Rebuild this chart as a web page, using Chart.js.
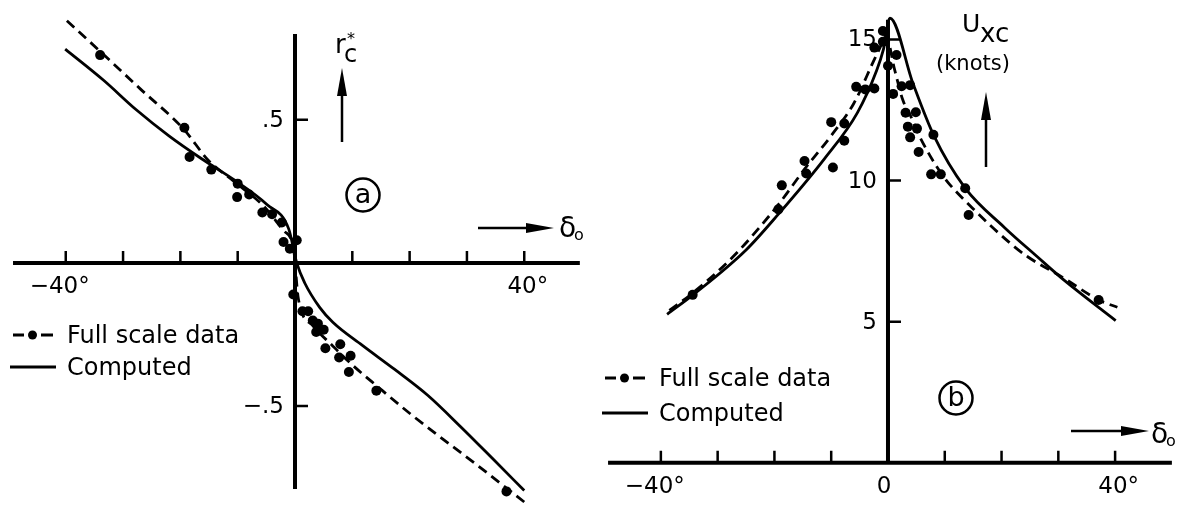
<!DOCTYPE html>
<html>
<head>
<meta charset="utf-8">
<script src="https://cdn.jsdelivr.net/npm/chart.js@4.4.1/dist/chart.umd.min.js"></script>
<style>
  html, body { margin: 0; padding: 0; background: #fff; }
  #wrap { position: relative; width: 1182px; height: 509px; overflow: hidden; }
  canvas { position: absolute; top: 0; }
  #chartA { left: 0; }
  #chartB { left: 590px; }
</style>
</head>
<body>
<div id="wrap">
  <canvas id="chartA" width="590" height="509"></canvas>
  <canvas id="chartB" width="592" height="509"></canvas>
</div>
<script>
// (a) non-dimensional rate of turn r_c* against rudder angle
const rDataDelta = [-34.0, -19.3, -18.4, -14.6, -10.0, -10.1, -8.0, -5.7, -4.0, -2.3, -2.0, -0.9, 0.3, -0.3, 1.3, 2.3, 3.1, 4.0, 3.7, 5.0, 5.3, 7.9, 7.7, 9.7, 9.4, 14.2, 36.9];
const rDataR = [0.726, 0.472, 0.370, 0.326, 0.277, 0.230, 0.239, 0.176, 0.170, 0.141, 0.073, 0.050, 0.079, -0.110, -0.169, -0.169, -0.201, -0.212, -0.241, -0.233, -0.298, -0.284, -0.330, -0.324, -0.381, -0.446, -0.798];
const rFitDelta = [-39.8, -34.0, -27.0, -19.4, -15.1, -10.6, -5.5, -2.0, -0.3, 0.6, 3.1, 6.5, 9.6, 14.6, 20.3, 31.7, 40.0];
const rFitR = [0.846, 0.739, 0.608, 0.467, 0.358, 0.284, 0.199, 0.113, 0.055, -0.127, -0.219, -0.288, -0.349, -0.435, -0.530, -0.705, -0.835];
const rCompDelta = [-40.1, -33.4, -27.7, -22.0, -16.3, -10.6, -4.9, -1.1, 0.3, 1.7, 4.3, 6.6, 11.7, 17.4, 23.2, 28.9, 34.6, 40.0];
const rCompR = [0.747, 0.638, 0.535, 0.444, 0.364, 0.290, 0.204, 0.119, 0.0, -0.070, -0.155, -0.207, -0.287, -0.372, -0.463, -0.572, -0.686, -0.795];

// (b) steady speed U_xc in knots against rudder angle
const uDataDelta = [-34.4, -19.3, -18.7, -14.7, -14.4, -9.7, -10.0, -7.7, -7.7, -5.6, -4.0, -2.4, -2.4, -0.9, -0.9, 0.0, 1.5, 0.9, 2.4, 3.9, 3.1, 4.9, 3.5, 5.1, 3.9, 8.0, 5.4, 7.6, 9.3, 13.6, 14.2, 37.1];
const uDataU = [5.95, 8.98, 9.83, 10.69, 10.25, 10.46, 12.07, 12.02, 11.41, 13.32, 13.23, 13.26, 14.71, 14.92, 15.30, 14.07, 14.45, 13.07, 13.34, 13.38, 12.40, 12.42, 11.91, 11.84, 11.53, 11.62, 11.01, 10.22, 10.22, 9.73, 8.78, 5.77];
const uFitDelta = [-38.5, -34.3, -27.3, -19.3, -14.6, -10.0, -6.0, -2.5, -1.4, -0.4, 1.2, 2.6, 4.0, 5.5, 9.6, 14.8, 21.7, 24.6, 30.9, 37.1, 40.4];
const uFitU = [5.40, 6.03, 7.30, 9.15, 10.43, 11.59, 12.74, 14.25, 14.71, 15.15, 13.90, 12.86, 12.28, 11.59, 10.19, 9.04, 7.75, 7.30, 6.55, 5.77, 5.51];
const uCompDelta = [-38.9, -34.0, -25.0, -19.3, -11.2, -5.4, -2.0, -0.8, 0.35, 4.4, 8.1, 13.6, 20.5, 26.3, 30.9, 40.1];
const uCompU = [5.26, 6.00, 7.54, 8.81, 10.77, 12.40, 13.90, 14.65, 15.75, 13.44, 11.58, 9.73, 8.34, 7.30, 6.49, 5.04];

// ticks and labels
const deltaTicks = [-40, -30, -20, -10, 10, 20, 30, 40];
const deltaLabelValues = [-40, 40];
const deltaLabels = ['\u221240\u00b0', '40\u00b0'];
const rTicks = [-0.5, 0.5];
const rTickLabels = ['\u2212.5', '.5'];
const uTicks = [5, 10, 15];
const uTickLabels = ['5', '10', '15'];

const FONT = '"DejaVu Sans", sans-serif';

function zip(xs, ys) {
  return xs.map((x, i) => ({ x: x, y: ys[i] }));
}

function datasets(dx, dy, fx, fy, cx, cy) {
  return [
    {
      label: 'Full scale data',
      data: zip(dx, dy),
      pointRadius: 5,
      pointHoverRadius: 5,
      backgroundColor: '#000',
      borderColor: '#000',
      borderWidth: 0,
      showLine: false,
    },
    {
      label: 'Full scale data',
      data: zip(fx, fy),
      showLine: true,
      borderColor: '#000',
      borderWidth: 2.8,
      borderDash: [10, 6],
      pointRadius: 0,
      pointHoverRadius: 0,
      cubicInterpolationMode: 'monotone',
    },
    {
      label: 'Computed',
      data: zip(cx, cy),
      showLine: true,
      borderColor: '#000',
      borderWidth: 2.8,
      pointRadius: 0,
      pointHoverRadius: 0,
      cubicInterpolationMode: 'monotone',
    },
  ];
}

function arrow(ctx, x1, y1, x2, y2) {
  const a = Math.atan2(y2 - y1, x2 - x1);
  const len = 28, w = 5;
  const bx = x2 - len * Math.cos(a), by = y2 - len * Math.sin(a);
  ctx.lineWidth = 2.5;
  ctx.beginPath();
  ctx.moveTo(x1, y1);
  ctx.lineTo(bx + 4 * Math.cos(a), by + 4 * Math.sin(a));
  ctx.stroke();
  ctx.beginPath();
  ctx.moveTo(x2, y2);
  ctx.lineTo(bx - w * Math.sin(a), by + w * Math.cos(a));
  ctx.lineTo(bx + w * Math.sin(a), by - w * Math.cos(a));
  ctx.closePath();
  ctx.fill();
}

function circled(ctx, cx, cy, letter) {
  ctx.lineWidth = 2.5;
  ctx.beginPath();
  ctx.arc(cx, cy, 16.5, 0, Math.PI * 2);
  ctx.stroke();
  ctx.font = '27px ' + FONT;
  ctx.textAlign = 'center';
  ctx.textBaseline = 'middle';
  ctx.fillText(letter, cx, cy + 1);
}

function deltaTitle(ctx, x, y) {
  ctx.textAlign = 'left';
  ctx.textBaseline = 'alphabetic';
  ctx.font = '28px ' + FONT;
  ctx.fillText('\u03b4', x, y);
  ctx.font = '16px ' + FONT;
  ctx.fillText('o', x + 15, y + 3);
}

function legend(ctx, chart, x, y1, y2) {
  const labels = [chart.data.datasets[0].label, chart.data.datasets[2].label];
  ctx.lineWidth = 2.8;
  // dashed sample with a dot
  ctx.beginPath();
  ctx.moveTo(x, y1); ctx.lineTo(x + 11, y1);
  ctx.moveTo(x + 28, y1); ctx.lineTo(x + 40, y1);
  ctx.stroke();
  ctx.beginPath();
  ctx.arc(x + 19.5, y1, 4.5, 0, Math.PI * 2);
  ctx.fill();
  // solid sample
  ctx.beginPath();
  ctx.moveTo(x - 3, y2); ctx.lineTo(x + 43, y2);
  ctx.stroke();
  ctx.font = '24px ' + FONT;
  ctx.textAlign = 'left';
  ctx.textBaseline = 'alphabetic';
  ctx.fillText(labels[0], x + 54, y1 + 8);
  ctx.fillText(labels[1], x + 54, y2 + 8);
}

// draws the crossing axes with their tick marks and labels, then the panel's own notes
const axisFrame = {
  id: 'axisFrame',
  beforeDatasetsDraw(chart, args, opts) {
    const { ctx, scales: { x, y } } = chart;
    const x0 = x.getPixelForValue(0), y0 = y.getPixelForValue(0);
    ctx.save();
    ctx.strokeStyle = '#000';
    ctx.fillStyle = '#000';
    ctx.lineWidth = 4;
    ctx.beginPath();
    ctx.moveTo(x.getPixelForValue(opts.xLine[0]), y0);
    ctx.lineTo(x.getPixelForValue(opts.xLine[1]), y0);
    ctx.moveTo(x0, y.getPixelForValue(opts.yLine[0]));
    ctx.lineTo(x0, y.getPixelForValue(opts.yLine[1]));
    ctx.stroke();

    ctx.lineWidth = 2.5;
    ctx.beginPath();
    opts.xTicks.forEach(v => {
      const px = x.getPixelForValue(v);
      ctx.moveTo(px, y0);
      ctx.lineTo(px, y0 - 12);
    });
    opts.yTicks.forEach(v => {
      const py = y.getPixelForValue(v);
      ctx.moveTo(x0, py);
      ctx.lineTo(x0 + 13, py);
    });
    ctx.stroke();

    ctx.font = '23px ' + FONT;
    ctx.textAlign = 'right';
    ctx.textBaseline = 'alphabetic';
    opts.xLabelValues.forEach((v, i) => {
      ctx.fillText(opts.xLabels[i], x.getPixelForValue(v) + 24, y0 + 30);
    });
    ctx.textBaseline = 'middle';
    opts.yLabelValues.forEach((v, i) => {
      ctx.fillText(opts.yLabels[i], x0 - 11, y.getPixelForValue(v) + 1);
    });
    ctx.restore();
  },
  afterDraw(chart, args, opts) {
    const ctx = chart.ctx;
    ctx.save();
    ctx.strokeStyle = '#000';
    ctx.fillStyle = '#000';
    opts.notes(ctx, chart);
    ctx.restore();
  },
};

function makeChart(id, sets, xr, yr, frame) {
  return new Chart(document.getElementById(id), {
    type: 'scatter',
    data: { datasets: sets },
    options: {
      responsive: false,
      animation: false,
      events: [],
      layout: { padding: 0 },
      scales: {
        x: { type: 'linear', min: xr[0], max: xr[1], display: false },
        y: { type: 'linear', min: yr[0], max: yr[1], display: false },
      },
      plugins: {
        legend: { display: false },
        tooltip: { enabled: false },
        axisFrame: frame,
      },
    },
    plugins: [axisFrame],
  });
}

makeChart('chartA',
  datasets(rDataDelta, rDataR, rFitDelta, rFitR, rCompDelta, rCompR),
  [-50.6, 50.6], [-0.842, 0.901],
  {
    xLine: [-49.2, 49.7],
    yLine: [-0.79, 0.80],
    xTicks: deltaTicks,
    yTicks: rTicks,
    xLabelValues: deltaLabelValues,
    xLabels: deltaLabels,
    yLabelValues: rTicks,
    yLabels: rTickLabels,
    notes(ctx, chart) {
      // r_c* with its arrow
      ctx.textAlign = 'left';
      ctx.textBaseline = 'alphabetic';
      ctx.font = '26px ' + FONT;
      ctx.fillText('r', 335, 53);
      ctx.font = '24px ' + FONT;
      ctx.fillText('c', 344, 62);
      ctx.font = '16px ' + FONT;
      ctx.fillText('*', 347, 44);
      arrow(ctx, 342, 142, 342, 68);
      circled(ctx, 363, 195, 'a');
      arrow(ctx, 478, 228, 554, 228);
      deltaTitle(ctx, 559, 237);
      legend(ctx, chart, 13, 335, 367);
    },
  });

makeChart('chartB',
  datasets(uDataDelta, uDataU, uFitDelta, uFitU, uCompDelta, uCompU),
  [-51.6, 50.9], [-1.46, 16.22],
  {
    xLine: [-49.3, 50.0],
    yLine: [0, 15.7],
    xTicks: deltaTicks,
    yTicks: uTicks,
    xLabelValues: deltaLabelValues,
    xLabels: deltaLabels,
    yLabelValues: uTicks,
    yLabels: uTickLabels,
    notes(ctx, chart) {
      const { x, y } = chart.scales;
      ctx.font = '23px ' + FONT;
      ctx.textAlign = 'center';
      ctx.textBaseline = 'alphabetic';
      ctx.fillText('0', x.getPixelForValue(0) - 4, y.getPixelForValue(0) + 30);
      // U_xc (knots) with its arrow
      ctx.textAlign = 'left';
      ctx.font = '25px ' + FONT;
      ctx.fillText('U', 372, 32);
      ctx.font = '26px ' + FONT;
      ctx.fillText('xc', 390, 42);
      ctx.font = '21px ' + FONT;
      ctx.fillText('(knots)', 346, 70);
      arrow(ctx, 396, 167, 396, 92);
      circled(ctx, 366, 398, 'b');
      arrow(ctx, 481, 431, 559, 431);
      deltaTitle(ctx, 561, 443);
      legend(ctx, chart, 15, 378, 413);
    },
  });
</script>
</body>
</html>
